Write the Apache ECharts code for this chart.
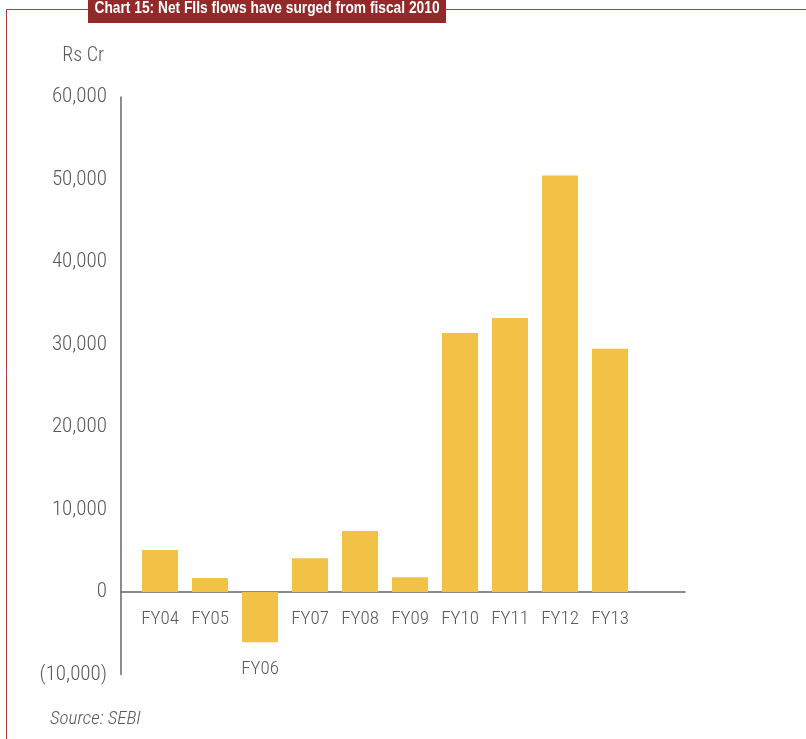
<!DOCTYPE html>
<html>
<head>
<meta charset="utf-8">
<script src="https://cdn.jsdelivr.net/npm/echarts@6/dist/echarts.min.js"></script>
<style>
html,body{margin:0;padding:0;background:#fff;}
#c{width:806px;height:739px;}
</style>
</head>
<body>
<div id="c"></div>
<script>
var categories = ['FY04','FY05','FY06','FY07','FY08','FY09','FY10','FY11','FY12','FY13'];
var netFII = [5100, 1700, -6100, 4100, 7400, 1800, 31400, 33200, 50500, 29500];
var yMin = -10000, yMax = 60000, yStep = 10000;
var titleText = 'Chart 15: Net FIIs flows have surged from fiscal 2010';
var unitText = 'Rs Cr';
var sourceText = 'Source: SEBI';

var labelFont = '"Roboto Condensed", "DejaVu Sans Condensed", sans-serif';
var gray = '#595959';
var gridTop = 97, gridBottom = 64.5;
var plotH = 739 - gridTop - gridBottom;
// shift of the category axis from the grid bottom up to the zero line (from the axis range)
var zeroShift = -plotH * (0 - yMin) / (yMax - yMin);

var chart = echarts.init(document.getElementById('c'), null, {renderer: 'canvas'});
chart.setOption({
  backgroundColor: '#fff',
  animation: false,
  graphic: [
    {type: 'line', shape: {x1: 6.5, y1: 9.5, x2: 806, y2: 9.5}, style: {stroke: '#B03A3A', lineWidth: 1}},
    {type: 'line', shape: {x1: 6.5, y1: 9.5, x2: 6.5, y2: 739}, style: {stroke: '#B03A3A', lineWidth: 1}},
    {type: 'rect', shape: {x: 88, y: 0, width: 358, height: 23}, style: {fill: '#922A2A'}},
    {type: 'text', x: 267, y: 8.5, scaleX: 0.81, style: {text: titleText, fill: '#fff', font: 'bold 17px "Liberation Sans", Arial, sans-serif', textAlign: 'center', textVerticalAlign: 'middle'}},
    {type: 'text', x: 104, y: 56, style: {text: unitText, fill: gray, font: '300 20px ' + labelFont, textAlign: 'right', textVerticalAlign: 'middle'}},
    {type: 'text', x: 50, y: 719, style: {text: sourceText, fill: gray, font: 'italic 300 19px ' + labelFont, textAlign: 'left', textVerticalAlign: 'middle'}}
  ],
  grid: [
    {left: 135, width: 500, top: gridTop, bottom: gridBottom, outerBoundsMode: 'none'},
    {left: 121, width: 564, top: gridTop, bottom: gridBottom, outerBoundsMode: 'none'}
  ],
  xAxis: [
    {type: 'category', gridIndex: 0, data: categories, position: 'bottom', offset: zeroShift,
     axisLine: {show: false, onZero: false}, axisTick: {show: false},
     axisLabel: {color: gray, fontSize: 19, fontWeight: 300, fontFamily: labelFont, margin: 15, lineHeight: 25,
       formatter: function (v, i) { return netFII[i] < 0 ? '\n\n' + v : v; }}},
    {type: 'value', gridIndex: 1, min: 0, max: 1,
     axisLine: {show: true, onZero: true, lineStyle: {color: '#666', width: 1.5}},
     axisTick: {show: false}, axisLabel: {show: false}, splitLine: {show: false}}
  ],
  yAxis: [
    {type: 'value', gridIndex: 0, min: yMin, max: yMax, interval: yStep,
     axisLine: {show: false}, axisTick: {show: false}, axisLabel: {show: false}, splitLine: {show: false}},
    {type: 'value', gridIndex: 1, min: yMin, max: yMax, interval: yStep,
     axisLine: {show: true, lineStyle: {color: '#666', width: 1.5}},
     axisTick: {show: false}, splitLine: {show: false},
     axisLabel: {color: gray, fontSize: 21, fontWeight: 300, fontFamily: labelFont, margin: 14,
       formatter: function (v) {
         var s = Math.abs(v).toLocaleString('en-US');
         return v < 0 ? '(' + s + ')' : s;
       }}}
  ],
  series: [{
    type: 'bar', xAxisIndex: 0, yAxisIndex: 0, data: netFII, barWidth: 36,
    itemStyle: {color: '#F1C246'}
  }]
});
</script>
</body>
</html>
